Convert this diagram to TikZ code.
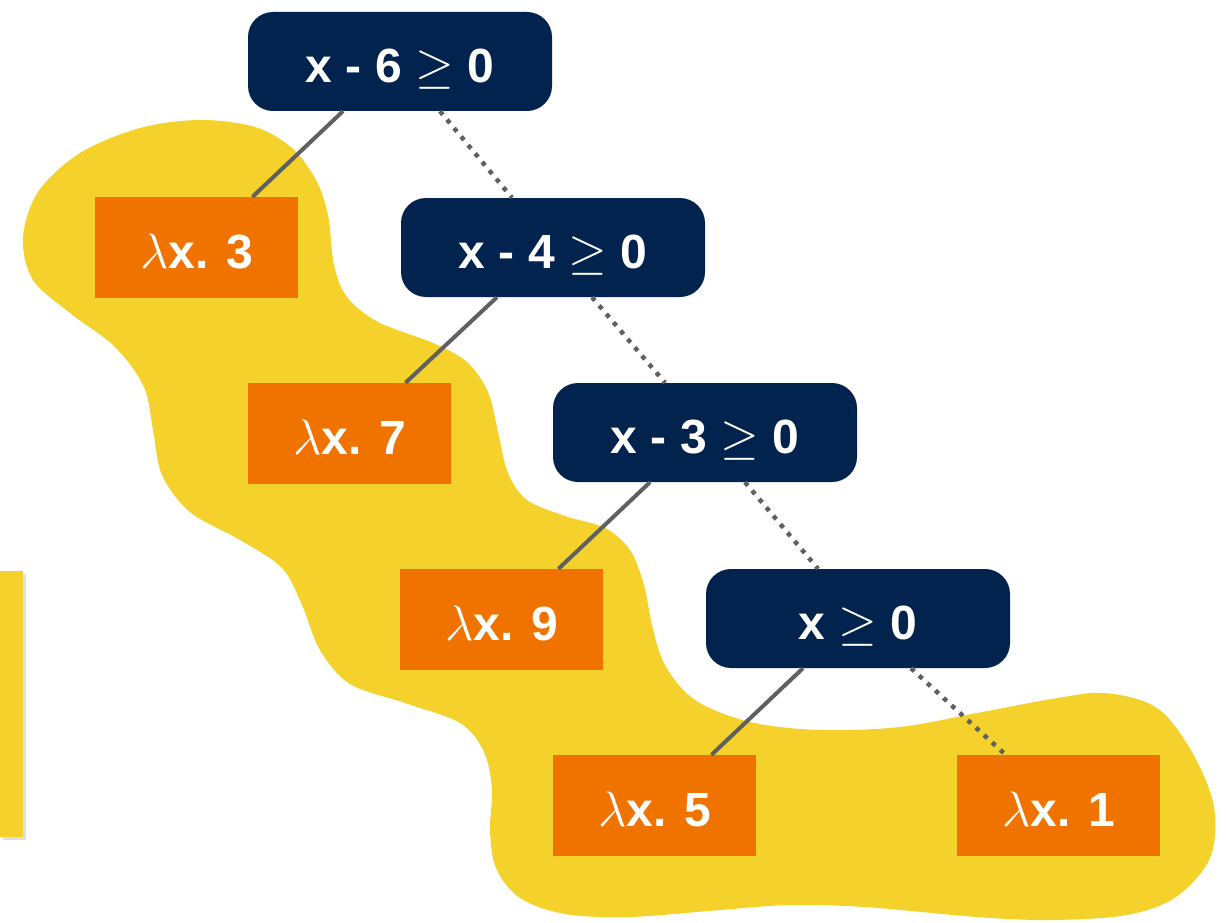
\documentclass[tikz,border=0pt]{standalone}
\usepackage{graphicx}
\usepackage{fontspec}
\setmainfont{Liberation Sans}
\usetikzlibrary{shadows}
\definecolor{navy}{HTML}{03234F}
\definecolor{leaforange}{HTML}{F07300}
\definecolor{blobyellow}{HTML}{F5D22B}
\definecolor{edgegray}{HTML}{606060}
\newcommand{\bigtxt}[1]{\scalebox{2}{\fontsize{24}{28}\selectfont\bfseries #1}}
\begin{document}
\begin{tikzpicture}[x=1pt,y=-1pt,
  cond/.style={fill=navy, rounded corners=25pt, minimum width=304pt, minimum height=99pt,
    inner sep=0pt, text=white, text height=42pt, text depth=0pt},
  leaf/.style={fill=leaforange, minimum width=203pt, minimum height=101pt,
    inner sep=0pt, text=white, text height=42pt, text depth=0pt},
  yesedge/.style={draw=edgegray, line width=4pt},
  noedge/.style={draw=edgegray, line width=4.5pt, dash pattern=on 4.5pt off 6.5pt}]
\useasboundingbox (0,0) rectangle (1229,923);
% left strip
\fill[blobyellow, drop shadow={opacity=0.25, shadow xshift=3pt, shadow yshift=-3pt}] (0,571) rectangle (23,837);
% blob
\fill[blobyellow] plot[smooth cycle, tension=0.55] coordinates {
 (23,238) (38,192) (80,153) (140,128) (200,120) (255,127) (292,148) (316,180) (328,215)
 (334,265) (347,297) (378,322) (433,343) (467,362) (488,392) (498,432) (508,473) (527,500)
 (565,516) (605,528) (630,550) (644,585) (652,625) (665,665) (695,700) (750,722) (820,730)
 (900,727) (977,713) (1052,699) (1105,693) (1157,708) (1192,752) (1214,807) (1210,858)
 (1176,897) (1127,915) (1052,920) (977,917) (865,907) (790,905) (720,910) (630,917)
 (565,914) (520,898) (496,868) (490,830) (492,790) (484,752) (460,723) (405,703) (350,684)
 (320,650) (302,605) (282,568) (240,540) (190,512) (162,475) (153,430) (144,387) (115,347)
 (70,313) (33,280)
};
% nodes
\node[cond] (n1) at (400,61.5) {\bigtxt{x - 6 $\geq$ 0}};
\node[cond] (n2) at (553,247.5) {\bigtxt{x - 4 $\geq$ 0}};
\node[cond] (n3) at (705,432.5) {\bigtxt{x - 3 $\geq$ 0}};
\node[cond] (n4) at (858,618.5) {\bigtxt{x $\geq$ 0}};
\node[leaf] (l3) at (196.5,247.5) {\bigtxt{$\lambda$x. 3}};
\node[leaf] (l7) at (349.5,433.5) {\bigtxt{$\lambda$x. 7}};
\node[leaf] (l9) at (501.5,619.5) {\bigtxt{$\lambda$x. 9}};
\node[leaf] (l5) at (654.5,805.5) {\bigtxt{$\lambda$x. 5}};
\node[leaf] (l1) at (1058.5,805.5) {\bigtxt{$\lambda$x. 1}};
% edges
\draw[yesedge] ([xshift=-57pt]n1.south) -- ([xshift=56pt]l3.north);
\draw[noedge]  ([xshift=40pt]n1.south) -- ([xshift=-41pt]n2.north);
\draw[yesedge] ([xshift=-56pt]n2.south) -- ([xshift=56pt]l7.north);
\draw[noedge]  ([xshift=39pt]n2.south) -- ([xshift=-40pt]n3.north);
\draw[yesedge] ([xshift=-55pt]n3.south) -- ([xshift=57pt]l9.north);
\draw[noedge]  ([xshift=40pt]n3.south) -- ([xshift=-40pt]n4.north);
\draw[yesedge] ([xshift=-55pt]n4.south) -- ([xshift=57pt]l5.north);
\draw[noedge]  ([xshift=53pt]n4.south) -- ([xshift=-53pt]l1.north);
\end{tikzpicture}
\end{document}
